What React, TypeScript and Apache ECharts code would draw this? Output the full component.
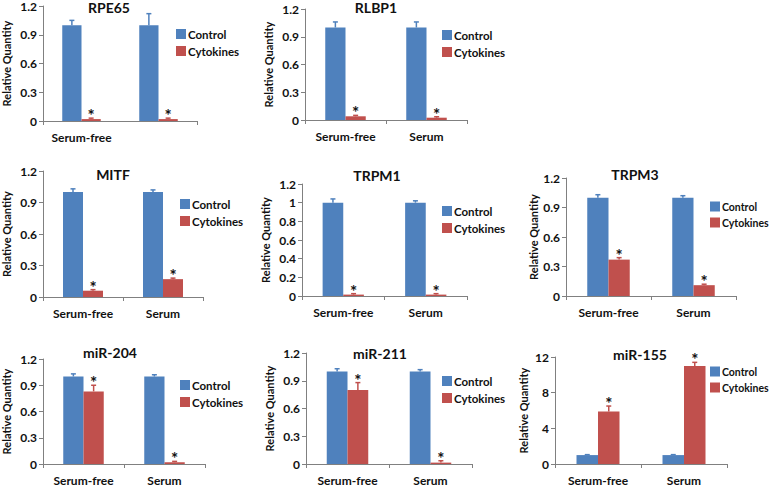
import React, { useEffect, useRef } from "react";
import * as echarts from "echarts";

const categories = ["Serum-free", "Serum"];
const genes = ["RPE65", "RLBP1", "MITF", "TRPM1", "TRPM3", "miR-204", "miR-211", "miR-155"];
const controlMean = [[1, 1], [1, 1], [1, 1], [1, 1], [1, 1], [1, 1], [1, 1], [1, 1]];
const controlErr = [[0.05, 0.12], [0.06, 0.06], [0.03, 0.02], [0.04, 0.02], [0.03, 0.02], [0.03, 0.02], [0.03, 0.02], [0.05, 0.05]];
const cytokineMean = [[0.02, 0.02], [0.04, 0.025], [0.06, 0.17], [0.015, 0.015], [0.37, 0.11], [0.83, 0.02], [0.8, 0.015], [5.9, 11.0]];
const cytokineErr = [[0.01, 0.01], [0.01, 0.01], [0.01, 0.01], [0.01, 0.01], [0.02, 0.01], [0.07, 0.01], [0.08, 0.02], [0.6, 0.4]];
const yMax = [1.2, 1.2, 1.2, 1.2, 1.2, 1.2, 1.2, 12];
const yStep = [0.3, 0.3, 0.3, 0.2, 0.3, 0.3, 0.3, 4];

// layout: [left, top, right, bottom] in px of plot area
const plotBox = [
  [42, 5, 197, 121],
  [305, 9, 467, 120],
  [43, 171, 203, 297],
  [302, 184, 467, 296],
  [566, 178, 736, 296],
  [43, 359, 205, 466],
  [306, 353, 472, 465],
  [555, 357, 727, 464],
];
const titlePos = [
  [109, 0], [376, 0], [113, 167], [377, 168], [635, 167], [110, 345], [380, 346], [640, 347],
];
const legendPos = [
  [176, 28], [442, 29], [180, 198], [442, 205], [710, 201], [180, 379], [442, 375], [710, 366],
];
const legendFont = [11.5, 11.5, 11.5, 11.5, 10.5, 11.5, 11.5, 10.5];

const BLUE = "#4F81BD";
const RED = "#C0504D";
const FONT = "Lato, 'Noto Sans', sans-serif";

export default function App() {
  const ref = useRef<HTMLDivElement>(null);
  useEffect(() => {
    const chart = echarts.init(ref.current!, null, { renderer: "svg" });
    const grid: any[] = [];
    const xAxis: any[] = [];
    const yAxis: any[] = [];
    const series: any[] = [];
    const title: any[] = [];
    const legend: any[] = [];
    genes.forEach((g, i) => {
      const [l, t, r, b] = plotBox[i];
      grid.push({ left: l, top: t, width: r - l, height: b - t, containLabel: false });
      xAxis.push({
        type: "category",
        gridIndex: i,
        data: categories,
        axisLine: { lineStyle: { color: "#808080", width: 1 } },
        axisTick: { show: true, alignWithLabel: false, length: 4, lineStyle: { color: "#808080" } },
        axisLabel: { color: "#111", fontWeight: "bold", fontSize: 12, fontFamily: FONT, margin: 10 },
      });
      yAxis.push({
        type: "value",
        gridIndex: i,
        min: 0,
        max: yMax[i],
        interval: yStep[i],
        name: "Relative Quantity",
        nameLocation: "middle",
        nameGap: i === 4 || i === 7 ? 26 : 31,
        nameTextStyle: { color: "#111", fontWeight: "bold", fontSize: 11, fontFamily: FONT },
        splitLine: { show: false },
        axisLine: { show: true, lineStyle: { color: "#808080", width: 1 } },
        axisTick: { show: true, length: 4, lineStyle: { color: "#808080" } },
        axisLabel: { color: "#111", fontWeight: "bold", fontSize: 12, fontFamily: FONT, margin: 6 },
      });
      title.push({
        text: g,
        left: titlePos[i][0],
        top: titlePos[i][1],
        textAlign: "center",
        textStyle: { color: "#111", fontWeight: "bold", fontSize: 14, fontFamily: FONT },
        padding: 0,
      });
      legend.push({
        data: ["Control", "Cytokines"],
        orient: "vertical",
        left: legendPos[i][0],
        top: legendPos[i][1],
        icon: "rect",
        itemWidth: 10,
        itemHeight: 10,
        itemGap: 5,
        padding: 0,
        selectedMode: false,
        textStyle: { color: "#111", fontWeight: "bold", fontSize: legendFont[i], fontFamily: FONT, padding: [0, 0, 0, -3] },
      });
      series.push({
        name: "Control",
        type: "bar",
        xAxisIndex: i,
        yAxisIndex: i,
        data: controlMean[i],
        barWidth: "25%",
        barGap: "0%",
        itemStyle: { color: BLUE },
      });
      series.push({
        name: "Cytokines",
        type: "bar",
        xAxisIndex: i,
        yAxisIndex: i,
        data: cytokineMean[i],
        barWidth: "25%",
        barGap: "0%",
        itemStyle: { color: RED },
      });
      const errData: any[] = [];
      categories.forEach((_, c) => {
        errData.push([c, controlMean[i][c], controlErr[i][c], 0]);
        errData.push([c, cytokineMean[i][c], cytokineErr[i][c], 1]);
      });
      series.push({
        type: "custom",
        xAxisIndex: i,
        yAxisIndex: i,
        data: errData,
        z: 10,
        renderItem: (params: any, api: any) => {
          const c = api.value(0);
          const m = api.value(1);
          const e = api.value(2);
          const side = api.value(3);
          const bw = api.size([1, 0])[0];
          const base = api.coord([c, m]);
          const top = api.coord([c, m + e]);
          const cx = base[0] + (side ? 0.125 : -0.125) * bw;
          const color = side ? RED : BLUE;
          const children: any[] = [
            { type: "line", shape: { x1: cx, y1: base[1], x2: cx, y2: top[1] }, style: { stroke: color, lineWidth: 1.5 } },
            { type: "line", shape: { x1: cx - 2.5, y1: top[1], x2: cx + 2.5, y2: top[1] }, style: { stroke: color, lineWidth: 1.5 } },
          ];
          if (side) {
            children.push({
              type: "text",
              x: cx,
              y: top[1] + 6,
              style: { text: "*", fill: "#111", fontSize: 17, fontWeight: "bold", fontFamily: FONT, align: "center", verticalAlign: "bottom" },
            });
          }
          return { type: "group", children };
        },
      });
    });
    chart.setOption({
      animation: false,
      backgroundColor: "#fff",
      grid,
      xAxis,
      yAxis,
      title,
      legend,
      series,
    });
    return () => chart.dispose();
  }, []);
  return <div ref={ref} style={{ position: "fixed", left: 0, top: 0, width: 771, height: 486 }} />;
}
